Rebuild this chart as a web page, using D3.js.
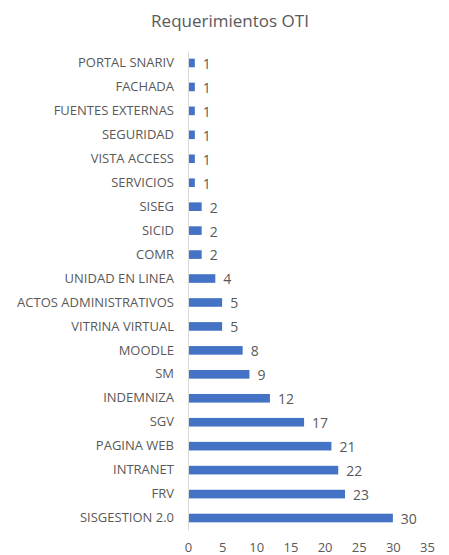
<!DOCTYPE html>
<html><head><meta charset="utf-8">
<script src="https://cdn.jsdelivr.net/npm/d3@7"></script>
<style>
body{margin:0;background:#fff;}
text{font-family:"Open Sans","Liberation Sans",sans-serif;fill:#595959;}
</style></head>
<body><svg id="c" width="449" height="555"></svg>
<script>
const title = "Requerimientos OTI";
const categories = ["PORTAL SNARIV","FACHADA","FUENTES EXTERNAS","SEGURIDAD","VISTA ACCESS","SERVICIOS","SISEG","SICID","COMR","UNIDAD EN LINEA","ACTOS ADMINISTRATIVOS","VITRINA VIRTUAL","MOODLE","SM","INDEMNIZA","SGV","PAGINA WEB","INTRANET","FRV","SISGESTION 2.0"];
const values = [1,1,1,1,1,1,2,2,2,4,5,5,8,9,12,17,21,22,23,30];
const xTicks = [0,5,10,15,20,25,30,35];

const svg = d3.select("#c");
const x = d3.scaleLinear().domain([0,35]).range([188,427]);
const y = d3.scaleBand().domain(categories).range([51,530]).paddingInner(0.64).paddingOuter(0.32);

svg.append("text").attr("x",230).attr("y",27).attr("text-anchor","middle")
  .style("font-size","17px").text(title);

svg.selectAll("rect.bar").data(values).join("rect").attr("class","bar")
  .attr("x",x(0)).attr("y",(d,i)=>y(categories[i]))
  .attr("width",d=>x(d)-x(0)).attr("height",y.bandwidth()).attr("fill","#4472C4");

svg.selectAll("text.val").data(values).join("text").attr("class","val")
  .attr("x",d=>x(d)+8).attr("y",(d,i)=>y(categories[i])+y.bandwidth()/2)
  .attr("dy","0.42em").style("font-size","14px").text(d=>d);

const ya = svg.append("g").attr("transform",`translate(${x(0)},0)`)
  .call(d3.axisLeft(y).tickSize(0).tickPadding(14));
ya.select(".domain").attr("stroke","#d9d9d9");
ya.selectAll("text").style("font-size","13px").attr("fill","#595959");

const xa = svg.append("g").attr("transform","translate(0,540)")
  .call(d3.axisBottom(x).tickValues(xTicks).tickSize(0).tickPadding(3));
xa.select(".domain").remove();
xa.selectAll("text").style("font-size","13px").attr("fill","#595959");
</script></body></html>
